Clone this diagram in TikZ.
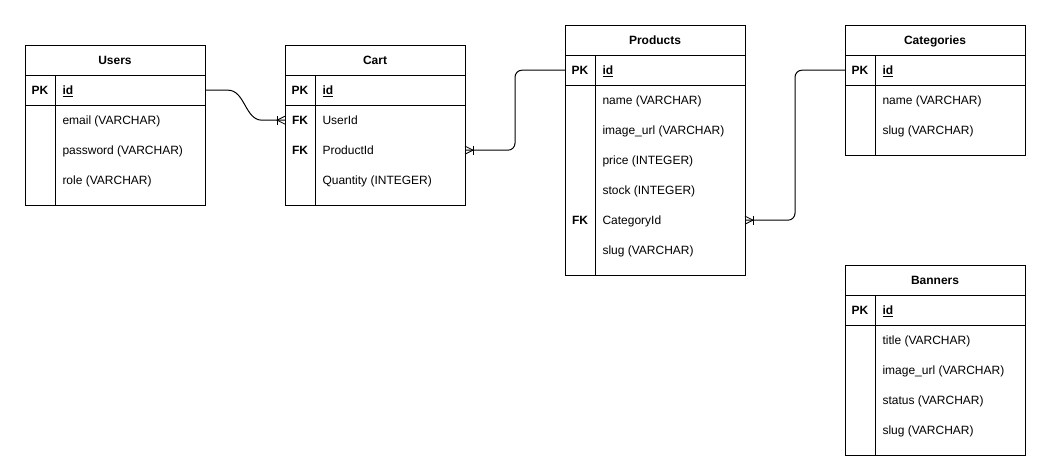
\documentclass[tikz,border=0pt]{standalone}
\usepackage{fontspec}
\setmainfont{Liberation Sans}
\usetikzlibrary{calc}

% one entity table: frame, title band, key row and the key column divider
% #1 name, #2 x, #3 y, #4 height, #5 title
\newcommand\erframe[5]{%
  \node[tbl, minimum height=#4pt] (#1) at (#2,#3) {};
  \node[ttl] (#1-title) at ($(#1.north)+(0,15)$) {#5};
  \draw ($(#1.north west)+(0,30)$) -- ($(#1.north east)+(0,30)$);
  \draw ($(#1.north west)+(0,60)$) -- ($(#1.north east)+(0,60)$);
  \draw ($(#1.north west)+(30,30)$) -- ($(#1.south west)+(30,0)$);
}

\begin{document}
\begin{tikzpicture}[x=1pt, y=-1pt, line width=1pt,
  tbl/.style={draw, minimum width=180pt, anchor=north west, inner sep=0pt, outer sep=0pt},
  ttl/.style={font=\fontsize{12}{14}\selectfont\bfseries, anchor=base, yshift=-4.3pt, inner sep=0pt},
  key/.style={font=\fontsize{12}{14}\selectfont\bfseries, anchor=base, yshift=-4.3pt, inner sep=0pt},
  fld/.style={font=\fontsize{12}{14}\selectfont, anchor=base west, yshift=-4.3pt, inner sep=0pt},
  pkfld/.style={fld, font=\fontsize{12}{14}\selectfont\bfseries},
  link/.style={line width=1pt},
  manyleft/.pic={\draw[line width=0.8pt] (0,-4) -- (-8,0) -- (0,4); \draw[line width=0.8pt] (-8,-4.5) -- (-8,4.5);},
  manyright/.pic={\draw[line width=0.8pt] (0,-4) -- (8,0) -- (0,4); \draw[line width=0.8pt] (8,-4.5) -- (8,4.5);},
]
\useasboundingbox (0,0) rectangle (1041,472);

% Users
\erframe{users}{25}{45}{160}{Users}
\node[key] (users-pk) at (40,90) {PK};
\node[pkfld] (users-id) at (62,90) {\underline{id}};
\node[fld] (users-email) at (62,120) {email (VARCHAR)};
\node[fld] (users-password) at (62,150) {password (VARCHAR)};
\node[fld] (users-role) at (62,180) {role (VARCHAR)};

% Cart
\erframe{cart}{285}{45}{160}{Cart}
\node[key] (cart-pk) at (300,90) {PK};
\node[pkfld] (cart-id) at (322,90) {\underline{id}};
\node[key] (cart-fk1) at (300,120) {FK};
\node[fld] (cart-userid) at (322,120) {UserId};
\node[key] (cart-fk2) at (300,150) {FK};
\node[fld] (cart-productid) at (322,150) {ProductId};
\node[fld] (cart-quantity) at (322,180) {Quantity (INTEGER)};

% Products
\erframe{products}{565}{25}{250}{Products}
\node[key] (products-pk) at (580,70) {PK};
\node[pkfld] (products-id) at (602,70) {\underline{id}};
\node[fld] (products-name) at (602,100) {name (VARCHAR)};
\node[fld] (products-image) at (602,130) {image\_url (VARCHAR)};
\node[fld] (products-price) at (602,160) {price (INTEGER)};
\node[fld] (products-stock) at (602,190) {stock (INTEGER)};
\node[key] (products-fk) at (580,220) {FK};
\node[fld] (products-categoryid) at (602,220) {CategoryId};
\node[fld] (products-slug) at (602,250) {slug (VARCHAR)};

% Categories
\erframe{categories}{845}{25}{130}{Categories}
\node[key] (categories-pk) at (860,70) {PK};
\node[pkfld] (categories-id) at (882,70) {\underline{id}};
\node[fld] (categories-name) at (882,100) {name (VARCHAR)};
\node[fld] (categories-slug) at (882,130) {slug (VARCHAR)};

% Banners
\erframe{banners}{845}{265}{190}{Banners}
\node[key] (banners-pk) at (860,310) {PK};
\node[pkfld] (banners-id) at (882,310) {\underline{id}};
\node[fld] (banners-title) at (882,340) {title (VARCHAR)};
\node[fld] (banners-image) at (882,370) {image\_url (VARCHAR)};
\node[fld] (banners-status) at (882,400) {status (VARCHAR)};
\node[fld] (banners-slug) at (882,430) {slug (VARCHAR)};

% Relationships (one to many)
\draw[link] (users.east |- users-pk) -- ++(23,0)
  .. controls +(17,0) and +(-17,0) .. ++(34,30) -- (cart.west |- cart-fk1);
\pic at (cart.west |- cart-fk1) {manyleft};

\draw[link, rounded corners=7pt] (products.west |- products-pk) -- ++(-50,0) |- (cart.east |- cart-fk2);
\pic at (cart.east |- cart-fk2) {manyright};

\draw[link, rounded corners=7pt] (categories.west |- categories-pk) -- ++(-50,0) |- (products.east |- products-fk);
\pic at (products.east |- products-fk) {manyright};
\end{tikzpicture}
\end{document}
